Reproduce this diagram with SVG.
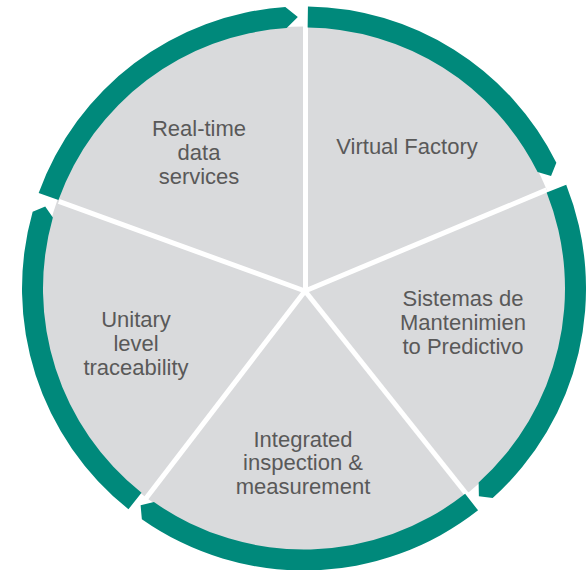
<svg xmlns="http://www.w3.org/2000/svg" width="586" height="570" viewBox="0 0 586 570">
<style>
.bg{fill:#ffffff}
.disc{fill:#D9DADC}
.ring{fill:#00897B}
.sep{stroke:#ffffff;stroke-width:5;stroke-linecap:butt;fill:none}
.lbl{font-family:"Liberation Sans",Arial,sans-serif;font-size:22px;fill:#595959;text-anchor:middle}
</style>
<rect class="bg" x="0" y="0" width="586" height="570"/>
<circle class="disc" cx="304" cy="288.5" r="262"/>
<g id="connectors">
<line class="sep" x1="305.5" y1="291" x2="305.5" y2="24"/>
<line class="sep" x1="305" y1="291" x2="546.7" y2="189.9"/>
<line class="sep" x1="305" y1="291" x2="468.1" y2="496"/>
<line class="sep" x1="305" y1="291" x2="145.5" y2="498.9"/>
<line class="sep" x1="305" y1="291" x2="58.8" y2="201.4"/>
</g>
<g id="virtual-factory">
<path class="ring" d="M307.94,6.53 A282,282 0 0 1 556.37,162.67 L551.05,175.91 L537.58,172.04 A261,261 0 0 0 307.64,27.53 Z"/>
<text class="lbl" x="407" y="154">Virtual Factory</text>
</g>
<g id="sistemas-mantenimiento">
<path class="ring" d="M566.2,184.69 A282,282 0 0 1 492.69,498.07 L478.88,496.18 L478.64,482.46 A261,261 0 0 0 546.67,192.42 Z"/>
<text class="lbl" x="463" y="306">Sistemas de</text>
<text class="lbl" x="463" y="330">Mantenimien</text>
<text class="lbl" x="463" y="353.5">to Predictivo</text>
</g>
<g id="integrated-inspection">
<path class="ring" d="M478.08,510.36 A282,282 0 0 1 141.85,519.22 L140.61,505.33 L153.92,502.04 A261,261 0 0 0 465.12,493.84 Z"/>
<text class="lbl" x="303" y="446.5">Integrated</text>
<text class="lbl" x="303" y="470">inspection &amp;</text>
<text class="lbl" x="303" y="494">measurement</text>
</g>
<g id="unitary-traceability">
<path class="ring" d="M128.45,509.2 A282,282 0 0 1 32.66,211.72 L45.21,206.41 L52.86,217.44 A261,261 0 0 0 141.52,492.76 Z"/>
<text class="lbl" x="136" y="327">Unitary</text>
<text class="lbl" x="136" y="351">level</text>
<text class="lbl" x="136" y="375">traceability</text>
</g>
<g id="real-time-data">
<path class="ring" d="M38.67,192.98 A282,282 0 0 1 285.31,7.12 L297.84,17.07 L286.7,28.07 A261,261 0 0 0 58.43,200.09 Z"/>
<text class="lbl" x="199" y="136">Real-time</text>
<text class="lbl" x="199" y="160">data</text>
<text class="lbl" x="199" y="183.5">services</text>
</g>
</svg>
